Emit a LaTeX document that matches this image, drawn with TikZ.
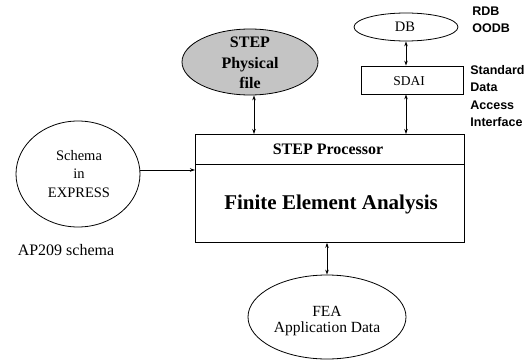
\documentclass[tikz,border=0pt]{standalone}
\usepackage{fontspec}
\setmainfont{Liberation Serif}
\newfontfamily\lblsans{Liberation Sans}
\usetikzlibrary{shapes.geometric,arrows.meta}
\begin{document}
\begin{tikzpicture}[x=1pt,y=-1pt,
  line width=0.8pt,
  ell/.style={draw,ellipse,inner sep=0pt},
  boxnode/.style={draw,rectangle,inner sep=0pt,anchor=north west},
  txt/.style={inner sep=0pt,align=center},
  conn/.style={{Stealth[length=5pt,width=3.5pt]}-{Stealth[length=5pt,width=3.5pt]}},
  oneway/.style={-{Stealth[length=5pt,width=3.5pt]}},
  sidelbl/.style={inner sep=0pt,align=left,anchor=north west,font=\lblsans\bfseries\fontsize{12.5}{17.3}\selectfont}]
\useasboundingbox (0,0) rectangle (532,361);
% main box
\node[boxnode,minimum width=269pt,minimum height=30pt] (proc) at (195,134) {};
\node[boxnode,minimum width=269pt,minimum height=78pt] (fea) at (195,164) {};
\node[txt,font=\bfseries\fontsize{16}{18}\selectfont] (proctxt) at (328,149) {STEP Processor};
\node[txt,font=\bfseries\fontsize{21}{24}\selectfont] (featxt) at (331,204) {Finite Element Analysis};
% STEP physical file
\node[ell,fill=black!23,minimum width=136pt,minimum height=66pt] (phys) at (250,62) {};
\node[txt,font=\bfseries\fontsize{16}{20.5}\selectfont] (phystxt) at (250,63) {STEP\\Physical\\file};
% DB
\node[ell,minimum width=104pt,minimum height=28pt] (db) at (406,27) {};
\node[txt,font=\fontsize{14.5}{16}\selectfont] (dbtxt) at (405,27) {DB};
% SDAI
\node[draw,rectangle,inner sep=0pt,minimum width=102pt,minimum height=28pt] (sdai) at (412,80) {};
\node[txt,font=\fontsize{13.5}{15}\selectfont] (sdaitxt) at (409,81) {SDAI};
% Schema
\node[ell,minimum width=124pt,minimum height=106pt] (schema) at (78,174) {};
\node[txt,font=\fontsize{14.5}{18.5}\selectfont] (schematxt) at (79,174) {Schema\\in\\EXPRESS};
\node[txt,font=\fontsize{16}{17}\selectfont] (ap) at (66,250) {AP209 schema};
% FEA application data
\node[ell,minimum width=158pt,minimum height=84pt] (app) at (327,317) {};
\node[txt,font=\fontsize{15.5}{16.5}\selectfont] (apptxt) at (327,321) {FEA\\Application Data};
% side labels
\node[sidelbl] (rdb) at (472,6) {RDB\\OODB};
\node[sidelbl] (sdailbl) at (470,65) {Standard\\Data\\Access\\Interface};
% connectors
\coordinate (pa) at (254,134);
\coordinate (sa) at (406,134);
\draw[conn] (phys.south -| pa) -- (pa);
\draw[conn] (db.south) -- (sdai.north -| db.south);
\draw[conn] (sdai.south -| sa) -- (sa);
\draw[oneway] (schema.east |- 0,170) -- (fea.west |- 0,170);
\draw[conn] (fea.south -| app.north) -- (app.north);
\end{tikzpicture}
\end{document}
